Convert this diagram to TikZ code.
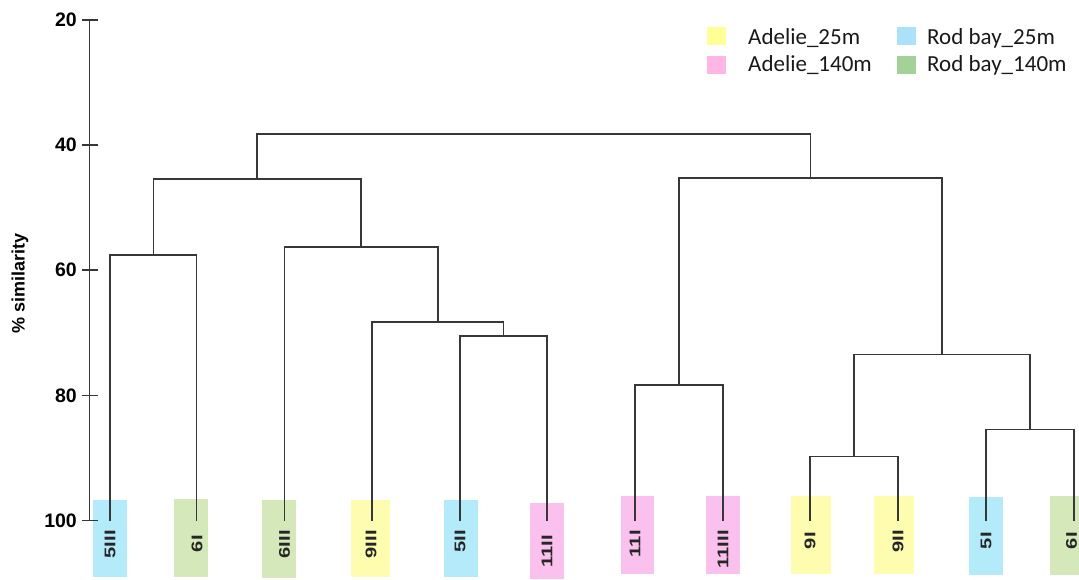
\documentclass[tikz,border=0pt]{standalone}
\usepackage{fontspec}
\setmainfont{Liberation Sans}
\newfontfamily\legendfont{Carlito}
\usepackage{graphicx}
\definecolor{legYellow}{RGB}{255,255,150}
\definecolor{legPink}{RGB}{255,182,228}
\definecolor{legBlue}{RGB}{172,226,249}
\definecolor{legGreen}{RGB}{162,210,152}
\definecolor{boxYellow}{RGB}{253,252,175}
\definecolor{boxPink}{RGB}{250,192,238}
\definecolor{boxBlue}{RGB}{180,235,250}
\definecolor{boxGreen}{RGB}{212,232,186}
\definecolor{lineGray}{RGB}{55,55,55}
\tikzset{
  branch/.style={draw=lineGray, line width=1.5pt},
  axisline/.style={draw=lineGray, line width=1.5pt},
  ticklabel/.style={font=\bfseries\fontsize{19.5}{22}\selectfont, anchor=east, inner sep=0pt},
  leaflabel/.style={font=\bfseries\fontsize{15.5}{18}\selectfont, text=black!85, rotate=90, anchor=east, inner sep=0pt},
  legendtext/.style={font=\legendfont\fontsize{23}{26}\selectfont, anchor=base west, inner sep=0pt, text=black!90},
  legendkey/.style={minimum width=19pt, minimum height=18pt, inner sep=0pt, draw=none}
}
\newcommand{\leaftext}[1]{\scalebox{1.3}[1]{#1}}
\begin{document}
\begin{tikzpicture}[x=1pt, y=-1pt]
\useasboundingbox (0,0) rectangle (1079,579);
\begin{scope}
\clip (0,0) rectangle (1079,579);

% coloured boxes behind the leaves
\fill[boxBlue]   (93,500) rectangle (127,577);
\fill[boxGreen]  (174,499) rectangle (208,577);
\fill[boxGreen]  (262,500) rectangle (296,578);
\fill[boxYellow] (351,500) rectangle (390,577);
\fill[boxBlue]   (444,500) rectangle (478,577);
\fill[boxPink]   (530,503) rectangle (564,579);
\fill[boxPink]   (621,496) rectangle (654,574);
\fill[boxPink]   (706,496) rectangle (740,574);
\fill[boxYellow] (791,496) rectangle (831,574);
\fill[boxYellow] (874,496) rectangle (914,574);
\fill[boxBlue]   (969,497) rectangle (1003,575);
\fill[boxGreen]  (1050,496) rectangle (1085,575);
\end{scope}

% similarity axis
\coordinate (ax20) at (89.5,20);
\coordinate (ax100) at (89.5,520.5);
\draw[axisline] (ax20) -- (ax100);
\foreach \v/\yy in {20/20, 40/145, 60/270.2, 80/395.5, 100/520.5}{
  \draw[axisline] (82,\yy) -- (98,\yy);
  \node[ticklabel] (t\v) at (77,\yy) {\v};
}
\node[font=\bfseries\fontsize{18}{21}\selectfont, rotate=90] (ylab) at (20,283) {\% similarity};

% leaves
\foreach \n/\xx in {1/110, 2/196.5, 3/284.5, 4/372, 5/460, 6/547, 7/635, 8/723, 9/810, 10/898, 11/986, 12/1074}{
  \coordinate (L\n) at (\xx,520.5);
}

% merge points
\coordinate (j1) at (153.25,255);
\coordinate (j2) at (503.5,336);
\coordinate (j3) at (437.75,322);
\coordinate (j4) at (361.1,247);
\coordinate (j5) at (257.2,179);
\coordinate (j6) at (679,385);
\coordinate (j7) at (854,456.5);
\coordinate (j8) at (1030,429.5);
\coordinate (j9) at (942,354.5);
\coordinate (j10) at (810.5,178);
\coordinate (j11) at (533.8,134);

\draw[branch] (L1) |- (j1) -| (L2);
\draw[branch] (L5) |- (j2) -| (L6);
\draw[branch] (L4) |- (j3) -| (j2);
\draw[branch] (L3) |- (j4) -| (j3);
\draw[branch] (j1) |- (j5) -| (j4);
\draw[branch] (L7) |- (j6) -| (L8);
\draw[branch] (L9) |- (j7) -| (L10);
\draw[branch] (L11) |- (j8) -| (L12);
\draw[branch] (j7) |- (j9) -| (j8);
\draw[branch] (j6) |- (j10) -| (j9);
\draw[branch] (j5) |- (j11) -| (j10);

% leaf labels
\node[leaflabel] (n1)  at (110,530) {\leaftext{5III}};
\node[leaflabel] (n2)  at (197,535) {\leaftext{6I}};
\node[leaflabel] (n3)  at (284.5,530) {\leaftext{6III}};
\node[leaflabel] (n4)  at (371,530) {\leaftext{9III}};
\node[leaflabel] (n5)  at (460,530) {\leaftext{5II}};
\node[leaflabel] (n6)  at (547,535) {\leaftext{11II}};
\node[leaflabel] (n7)  at (635,530) {\leaftext{11I}};
\node[leaflabel] (n8)  at (723,530) {\leaftext{11III}};
\node[leaflabel] (n9)  at (810,532) {\leaftext{9I}};
\node[leaflabel] (n10) at (898,530) {\leaftext{9II}};
\node[leaflabel] (n11) at (986,532) {\leaftext{5I}};
\node[leaflabel] (n12) at (1071.5,532) {\leaftext{6I}};

% legend
\node[legendkey, fill=legYellow] (k1) at (716,35.5) {};
\node[legendkey, fill=legPink]   (k2) at (716,64.5) {};
\node[legendkey, fill=legBlue]   (k3) at (906.5,36) {};
\node[legendkey, fill=legGreen]  (k4) at (906.5,64.5) {};
\node[legendtext] (g1) at (748,44) {Adelie\_25m};
\node[legendtext] (g2) at (748,71.5) {Adelie\_140m};
\node[legendtext] (g3) at (927,44) {Rod bay\_25m};
\node[legendtext] (g4) at (927,71.5) {Rod bay\_140m};
\end{tikzpicture}
\end{document}
